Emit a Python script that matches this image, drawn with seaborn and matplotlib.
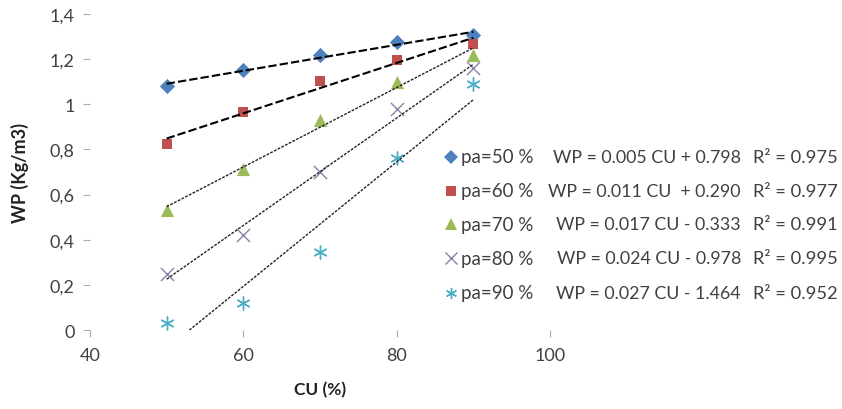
import matplotlib
matplotlib.use("Agg")
import matplotlib.pyplot as plt
import seaborn as sns
import pandas as pd
from matplotlib.lines import Line2D
from matplotlib.ticker import FixedLocator, FixedFormatter

# ---- data ----
cu = [50, 60, 70, 80, 90]
wp_50 = [1.08, 1.15, 1.22, 1.275, 1.305]
wp_60 = [0.825, 0.965, 1.105, 1.195, 1.268]
wp_70 = [0.53, 0.715, 0.93, 1.098, 1.218]
wp_80 = [0.248, 0.422, 0.698, 0.978, 1.16]
wp_90 = [0.03, 0.12, 0.347, 0.76, 1.088]
series_names = ["pa=50 %", "pa=60 %", "pa=70 %", "pa=80 %", "pa=90 %"]
equations = ["WP = 0.005 CU + 0.798", "WP = 0.011 CU  + 0.290", "WP = 0.017 CU - 0.333",
             "WP = 0.024 CU - 0.978", "WP = 0.027 CU - 1.464"]
r2_texts = ["R\u00b2 = 0.975", "R\u00b2 = 0.977", "R\u00b2 = 0.991", "R\u00b2 = 0.995", "R\u00b2 = 0.952"]
x_ticks = [40, 60, 80, 100]
y_ticks = [0, 0.2, 0.4, 0.6, 0.8, 1.0, 1.2, 1.4]
y_tick_labels = ["0", "0,2", "0,4", "0,6", "0,8", "1", "1,2", "1,4"]

all_wp = [wp_50, wp_60, wp_70, wp_80, wp_90]
df = pd.DataFrame({
    "CU": cu * 5,
    "WP": sum(all_wp, []),
    "series": [n for n in series_names for _ in cu],
})

colors = ["#4F81BD", "#C0504D", "#9BBB59", "#8D7FA8", "#4BACC6"]
markers = ["D", "s", "^", "x", (6, 2, 0)]
msizes = [60, 60, 90, 90, 90]

sns.set_style("white")
plt.rcParams["font.family"] = ["Lato", "DejaVu Sans"]

fig = plt.figure(figsize=(8.42, 4.10), dpi=100)
ax = fig.add_axes([90 / 842, 1 - 331 / 410, 460 / 842, 316 / 410])

line_styles = [
    dict(color="black", lw=1.5, dashes=(4, 1.5)),
    dict(color="black", lw=1.5, dashes=(4, 1.5)),
    dict(color="#222222", lw=1.0, dashes=(2, 1)),
    dict(color="#222222", lw=1.0, dashes=(2, 1)),
    dict(color="#222222", lw=1.0, dashes=(2, 1)),
]

for i, name in enumerate(series_names):
    sub = df[df["series"] == name]
    sns.scatterplot(data=sub, x="CU", y="WP", ax=ax, color=colors[i], marker=markers[i],
                    s=msizes[i], linewidth=1.0 if i >= 3 else 0, edgecolor=colors[i] if i >= 3 else None,
                    legend=False, zorder=3)
    sns.regplot(data=sub, x="CU", y="WP", ax=ax, scatter=False, ci=None, truncate=True,
                line_kws=dict(zorder=4, **line_styles[i]))

ax.set_xlim(40, 100)
ax.set_ylim(0, 1.4)
ax.xaxis.set_major_locator(FixedLocator(x_ticks))
ax.yaxis.set_major_locator(FixedLocator(y_ticks))
ax.yaxis.set_major_formatter(FixedFormatter(y_tick_labels))
for s in ax.spines.values():
    s.set_visible(False)
ax.tick_params(axis="both", which="major", length=5, width=0.8, color="#aaaaaa",
               labelsize=13, labelcolor="#404040", direction="out",
               bottom=True, left=True)
ax.tick_params(axis="x", pad=7)
ax.tick_params(axis="y", pad=6)
ax.set_xlabel("CU (%)", fontsize=12.5, fontweight="bold", color="#222222", labelpad=13)
ax.set_ylabel("WP (Kg/m3)", fontsize=13, fontweight="bold", color="#222222", labelpad=15)
ax.patch.set_alpha(0)

# legend-like block
row_y = [158, 192, 225, 259, 294]
for i, name in enumerate(series_names):
    yf = 1 - row_y[i] / 410
    fig.add_artist(Line2D([451 / 842], [yf], marker=markers[i], color=colors[i],
                          markersize=[7, 7, 8.5, 8, 8][i], markeredgewidth=1.0 if i >= 3 else 0,
                          linestyle="none", transform=fig.transFigure))
    fig.text(461 / 842, yf, name, fontsize=13.5, color="#404040", ha="left", va="center")
    fig.text(741 / 842, yf, equations[i], fontsize=12.8, color="#404040", ha="right", va="center")
    fig.text(753 / 842, yf, r2_texts[i], fontsize=13.2, color="#404040", ha="left", va="center")

fig.savefig("out.png", dpi=100, facecolor="white")
